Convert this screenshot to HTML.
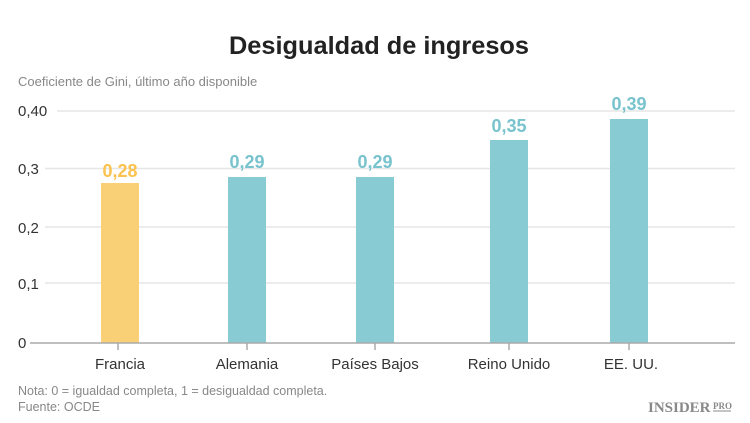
<!DOCTYPE html>
<html><head><meta charset="utf-8"><style>
body{margin:0;background:#fff;}
svg{display:block;font-family:"Liberation Sans",sans-serif;}
</style></head><body>
<svg width="750" height="423" viewBox="0 0 750 423">
<text x="379" y="54" text-anchor="middle" font-size="25" font-weight="bold" fill="#222" textLength="300" lengthAdjust="spacingAndGlyphs">Desigualdad de ingresos</text>
<text x="18" y="86" font-size="13" fill="#888">Coeficiente de Gini, último año disponible</text>
<g stroke="#e6e6e6" stroke-width="1.5">
<line x1="57" y1="111" x2="735" y2="111"/>
<line x1="45" y1="168.5" x2="735" y2="168.5"/>
<line x1="45" y1="227" x2="735" y2="227"/>
<line x1="45" y1="283" x2="735" y2="283"/>
</g>
<g font-size="15" fill="#333">
<text x="18" y="116">0,40</text>
<text x="18" y="174">0,3</text>
<text x="18" y="233">0,2</text>
<text x="18" y="289">0,1</text>
<text x="18" y="348">0</text>
</g>
<rect x="101" y="183" width="38" height="160" fill="#fad077"/>
<rect x="228" y="177" width="38" height="166" fill="#88cbd3"/>
<rect x="356" y="177" width="38" height="166" fill="#88cbd3"/>
<rect x="490" y="140" width="38" height="203" fill="#88cbd3"/>
<rect x="610" y="119" width="38" height="224" fill="#88cbd3"/>
<g font-size="18" font-weight="bold" text-anchor="middle">
<text x="120" y="177" fill="#fbc24d">0,28</text>
<text x="247" y="168" fill="#78c3cd">0,29</text>
<text x="375" y="168" fill="#78c3cd">0,29</text>
<text x="509" y="132" fill="#78c3cd">0,35</text>
<text x="629" y="110" fill="#78c3cd">0,39</text>
</g>
<line x1="30" y1="343" x2="735" y2="343" stroke="#aaa" stroke-width="1.5"/>
<g stroke="#aaa" stroke-width="1.5">
<line x1="118" y1="343" x2="118" y2="350"/>
<line x1="247" y1="343" x2="247" y2="350"/>
<line x1="375" y1="343" x2="375" y2="350"/>
<line x1="509" y1="343" x2="509" y2="350"/>
<line x1="629" y1="343" x2="629" y2="350"/>
</g>
<g font-size="15" fill="#333" text-anchor="middle">
<text x="120" y="369">Francia</text>
<text x="247" y="369">Alemania</text>
<text x="375" y="369">Países Bajos</text>
<text x="509" y="369">Reino Unido</text>
<text x="631" y="369">EE. UU.</text>
</g>
<text x="18" y="395" font-size="12.5" fill="#888">Nota: 0 = igualdad completa, 1 = desigualdad completa.</text>
<text x="18" y="411" font-size="12.5" fill="#888">Fuente: OCDE</text>
<text x="648" y="412" font-family="Liberation Serif,serif" font-size="15" font-weight="bold" fill="#888">INSIDER</text>
<text x="713" y="409" font-family="Liberation Serif,serif" font-size="9" font-weight="bold" fill="#888">PRO</text>
<line x1="713" y1="411" x2="731" y2="411" stroke="#888" stroke-width="1"/>
</svg>
</body></html>
